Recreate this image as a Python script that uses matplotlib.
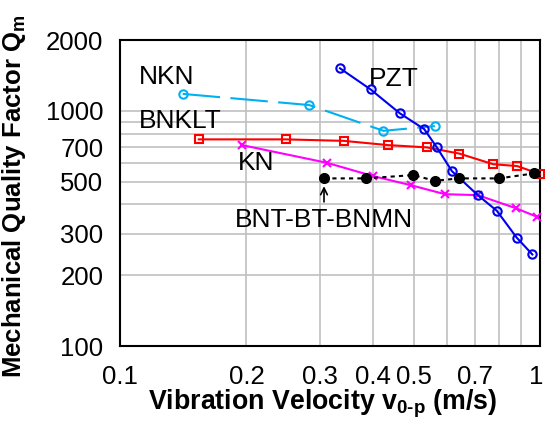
import matplotlib
matplotlib.use("Agg")
import matplotlib.pyplot as plt
import matplotlib.transforms as mtransforms
from matplotlib.ticker import FixedLocator, NullFormatter

plt.rcParams['font.family'] = ['Liberation Sans', 'DejaVu Sans']
plt.rcParams['mathtext.fontset'] = 'custom'
plt.rcParams['mathtext.rm'] = 'Liberation Sans'
plt.rcParams['mathtext.bf'] = 'Liberation Sans:bold'

# data (x = vibration velocity m/s, y = Qm)
pzt_v = [0.334, 0.395, 0.464, 0.530, 0.568, 0.617, 0.711, 0.789, 0.880, 0.959]
pzt_q = [1516, 1233, 975, 836, 699, 554, 438, 376, 289, 245]

nkn_v = [0.141, 0.282, 0.424, 0.562]
nkn_q = [1180, 1058, 822, 861]

bnklt_v = [0.154, 0.248, 0.341, 0.434, 0.537, 0.642, 0.773, 0.883, 1.0]
bnklt_q = [756, 756, 745, 715, 699, 658, 593, 582, 538]

kn_v = [0.195, 0.311, 0.400, 0.492, 0.594, 0.711, 0.877, 0.985]
kn_q = [715, 601, 528, 483, 442, 438, 385, 354]

bnt_v = [0.306, 0.385, 0.499, 0.562, 0.642, 0.799, 0.969]
bnt_q = [516, 516, 533, 504, 516, 516, 542]

x_ticks = [0.1, 0.2, 0.3, 0.4, 0.5, 0.7, 1]
x_labels = ["0.1", "0.2", "0.3", "0.4", "0.5", "0.7", "1"]
x_minor = [0.6, 0.8, 0.9]
y_ticks = [100, 200, 300, 500, 700, 1000, 2000]
y_minor = [400, 600, 800, 900]

fig = plt.figure(figsize=(5.45, 4.28), dpi=100)
ax = fig.add_axes([120 / 545, 82 / 428, 420 / 545, 306 / 428])

ax.set_xscale('log')
ax.set_yscale('log')
ax.set_xlim(0.1, 1)
ax.set_ylim(100, 2000)

ax.plot(nkn_v, nkn_q, color='#00b0f0', lw=1.5, dashes=(18, 5),
        marker='o', ms=6, mfc='none', mew=1.5, clip_on=False, zorder=3)
ax.plot(pzt_v, pzt_q, color='#0000ee', lw=1.5, marker='o', ms=6,
        mfc='none', mew=1.5, clip_on=False, zorder=4)
ax.plot(bnklt_v, bnklt_q, color='#ff0000', lw=1.5, marker='s', ms=6,
        mfc='none', mew=1.5, clip_on=False, zorder=3)
ax.plot(kn_v, kn_q, color='#ff00ff', lw=1.5, marker='x', ms=6,
        mew=1.5, clip_on=False, zorder=3)
ax.plot(bnt_v, bnt_q, color='black', lw=1.5, dashes=(2, 2), marker='o',
        ms=7, clip_on=False, zorder=5)

ax.xaxis.set_major_locator(FixedLocator(x_ticks))
ax.xaxis.set_minor_locator(FixedLocator(x_minor))
ax.set_xticklabels(x_labels)
ax.xaxis.set_minor_formatter(NullFormatter())
ax.yaxis.set_major_locator(FixedLocator(y_ticks))
ax.yaxis.set_minor_locator(FixedLocator(y_minor))
ax.set_yticklabels([str(t) for t in y_ticks])
ax.yaxis.set_minor_formatter(NullFormatter())

ax.grid(True, which='both', color='#c0c0c0', lw=1.2)
ax.set_axisbelow(True)
ax.tick_params(which='both', length=0, labelsize=18.5)
ax.tick_params(axis='x', pad=14)
ax.tick_params(axis='y', pad=12)
for s in ax.spines.values():
    s.set_linewidth(1.5)

# nudge the "1" label a little left so it stays inside the figure
last = ax.get_xticklabels()[-1]
last.set_transform(last.get_transform() +
                   mtransforms.ScaledTranslation(-3 / 72, 0, fig.dpi_scale_trans))

ax.text(0.111, 1398, "NKN", fontsize=19, va='center', ha='left')
ax.text(0.111, 905, "BNKLT", fontsize=19, va='center', ha='left')
ax.text(0.191, 597, "KN", fontsize=19, va='center', ha='left')
ax.text(0.392, 1365, "PZT", fontsize=19, va='center', ha='left')
ax.annotate("", xy=(0.306, 478), xytext=(0.306, 410),
            arrowprops=dict(arrowstyle='->', color='black', lw=1.2,
                            shrinkA=0, shrinkB=0, mutation_scale=12))
ax.text(0.306, 345, "BNT-BT-BNMN", fontsize=19, ha='center', va='center')

fig.text(323 / 545, 8 / 428, r"Vibration Velocity v$_{\mathbf{0‐p}}$ (m/s)",
         fontsize=19.3, fontweight='bold', ha='center', va='bottom')
fig.text(0, 50 / 428, r"Mechanical Quality Factor Q$_{\mathbf{m}}$",
         fontsize=18.5, fontweight='bold', rotation=90, ha='left', va='bottom')

fig.savefig("out.png", dpi=100)
